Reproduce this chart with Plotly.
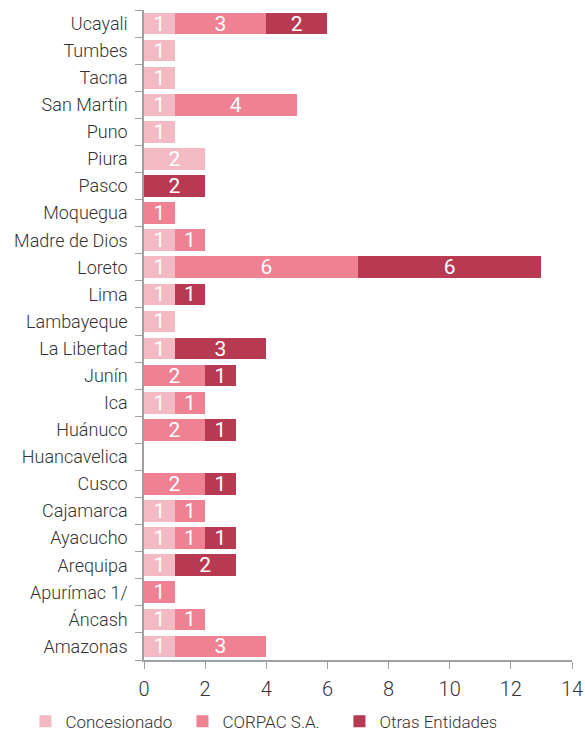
import plotly.graph_objects as go

regions = ["Amazonas", "Áncash", "Apurímac 1/", "Arequipa", "Ayacucho", "Cajamarca",
           "Cusco", "Huancavelica", "Huánuco", "Ica", "Junín", "La Libertad",
           "Lambayeque", "Lima", "Loreto", "Madre de Dios", "Moquegua", "Pasco",
           "Piura", "Puno", "San Martín", "Tacna", "Tumbes", "Ucayali"]
concesionado = [1, 1, None, 1, 1, 1, None, None, None, 1, None, 1,
                1, 1, 1, 1, None, None, 2, 1, 1, 1, 1, 1]
corpac = [3, 1, 1, None, 1, 1, 2, None, 2, 1, 2, None,
          None, None, 6, 1, 1, None, None, None, 4, None, None, 3]
otras = [None, None, None, 2, 1, None, 1, None, 1, None, 1, 3,
         None, 1, 6, None, None, 2, None, None, None, None, None, 2]
x_ticks = [0, 2, 4, 6, 8, 10, 12, 14]

series = [("Concesionado", concesionado, "#F3BAC3"),
          ("CORPAC S.A.", corpac, "#EE8192"),
          ("Otras Entidades", otras, "#B83A52")]

FONT = "Roboto"
fig = go.Figure()
for name, vals, col in series:
    fig.add_trace(go.Bar(
        y=regions, x=vals, name=name, orientation="h",
        marker=dict(color=col, line=dict(width=0)),
        text=vals, texttemplate="%{x}", textposition="inside",
        insidetextanchor="middle", textangle=0,
        textfont=dict(color="white", size=21, family=FONT, weight=400),
        cliponaxis=False,
    ))

fig.update_layout(
    barmode="stack", bargap=0.2,
    width=585, height=734,
    margin=dict(l=144, r=13, t=10, b=74, autoexpand=False),
    plot_bgcolor="white", paper_bgcolor="white",
    font=dict(family=FONT, size=17, color="#333333", weight=300),
    uniformtext=dict(minsize=21, mode="show"),
    showlegend=True,
    legend=dict(orientation="h", x=-0.277, xanchor="left", y=-0.095, yanchor="middle",
                font=dict(size=17, color="#333333", family=FONT, weight=300),
                entrywidth=112, entrywidthmode="pixels",
                itemwidth=30, traceorder="normal"),
)
fig.update_xaxes(range=[0, 14], tickvals=x_ticks, showgrid=False, zeroline=False,
                 showline=True, linecolor="#A0A0A0", linewidth=1.5,
                 ticks="outside", ticklen=7, tickcolor="#A0A0A0",
                 ticklabelstandoff=3, automargin=False,
                 tickfont=dict(size=20, color="#333333", weight=300))
fig.update_yaxes(categoryorder="array", categoryarray=regions, showgrid=False,
                 showline=True, linecolor="#A0A0A0", linewidth=1.5,
                 ticks="outside", ticklen=7, tickcolor="#A0A0A0", tickson="boundaries",
                 ticklabelstandoff=11, automargin=False,
                 tickfont=dict(size=18, color="#333333", weight=300))

fig.write_html("out.html", config={"displayModeBar": False},
               post_script="document.body.style.margin='0';document.body.style.overflow='hidden';")
